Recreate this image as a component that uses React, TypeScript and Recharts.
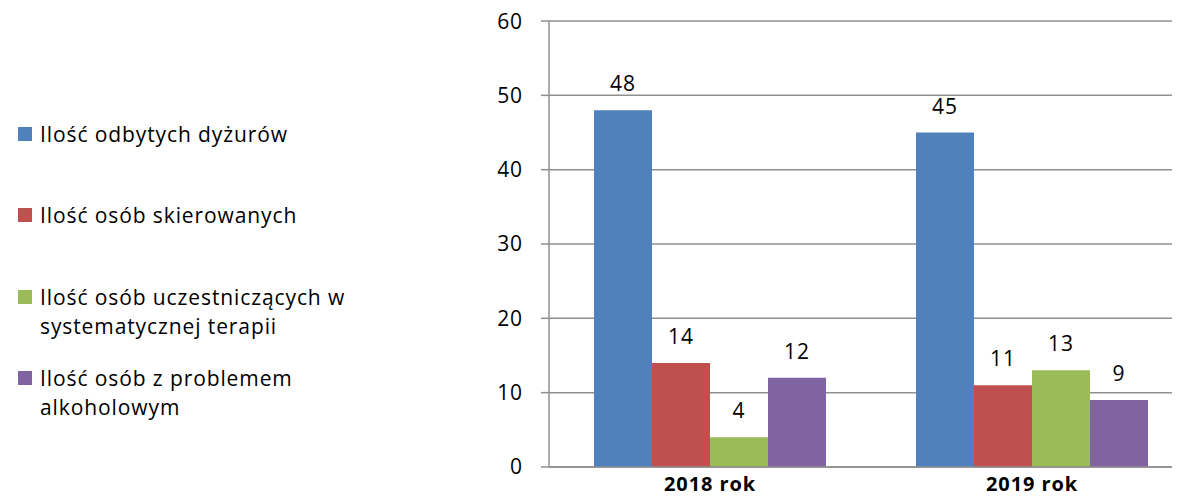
import React from "react";
import { BarChart, Bar, XAxis, YAxis, CartesianGrid, Legend, LabelList } from "recharts";

const categories = ["2018 rok", "2019 rok"];
const dyzury = [48, 45];
const skierowane = [14, 11];
const terapia = [4, 13];
const alkohol = [12, 9];
const yTicks = [0, 10, 20, 30, 40, 50, 60];

const seriesNames = [
  "Ilość odbytych dyżurów",
  "Ilość osób skierowanych",
  "Ilość osób uczestniczących w systematycznej terapii",
  "Ilość osób z problemem alkoholowym",
];
const legendLines = [
  ["Ilość odbytych dyżurów"],
  ["Ilość osób skierowanych"],
  ["Ilość osób uczestniczących w", "systematycznej terapii"],
  ["Ilość osób z problemem", "alkoholowym"],
];

const data = categories.map((c, i) => ({
  name: c,
  s0: dyzury[i],
  s1: skierowane[i],
  s2: terapia[i],
  s3: alkohol[i],
}));

const FONT = "'Open Sans', sans-serif";
const GRID = "#8f8f8f";
const colors = ["#4F81BD", "#C0504D", "#9BBB59", "#8064A2"];
const legendTops = [0, 81, 163, 244];

const LegendContent = (props: any) => {
  const payload = props.payload || [];
  return (
    <div style={{ position: "relative", width: 476, height: 320, fontFamily: FONT, fontSize: 21, letterSpacing: 0.9, color: "#000" }}>
      {payload.map((p: any, i: number) => {
        const idx = seriesNames.indexOf(p.value);
        const lines = legendLines[idx >= 0 ? idx : i];
        return (
          <div key={i} style={{ position: "absolute", left: 0, top: legendTops[i] }}>
            <div style={{ position: "absolute", left: 5, top: 8, width: 14, height: 14, background: p.color }} />
            {lines.map((l: string, j: number) => (
              <div key={j} style={{ position: "absolute", left: 27, top: j * 29, lineHeight: "30px", whiteSpace: "nowrap" }}>{l}</div>
            ))}
          </div>
        );
      })}
    </div>
  );
};

const labelStyle = { fontFamily: FONT, fontSize: 21, fill: "#000", letterSpacing: 0.9 };

export default function App() {
  return (
    <div style={{ width: 1172, height: 491, overflow: "hidden" }}>
      <BarChart
        width={1190}
        height={491}
        data={data}
        margin={{ top: 13, right: 5, bottom: 0, left: 5 }}
        barGap={0}
        barSize={58}
      >
        <CartesianGrid vertical={false} stroke={GRID} strokeWidth={1.5} />
        <XAxis
          dataKey="name"
          axisLine={{ stroke: GRID, strokeWidth: 1.5 }}
          tickLine={false}
          tickSize={0}
          tickMargin={10}
          height={32}
          interval={0}
          tick={{ fontFamily: FONT, fontSize: 20, fontWeight: 700, fill: "#000", letterSpacing: 0.9 }}
        />
        <YAxis
          domain={[0, 60]}
          ticks={yTicks}
          width={60}
          axisLine={{ stroke: GRID, strokeWidth: 1.5 }}
          tickLine={{ stroke: GRID, strokeWidth: 1.5 }}
          tickSize={8}
          tickMargin={18}
          tick={{ ...labelStyle }}
        />
        <Legend
          layout="vertical"
          align="left"
          verticalAlign="top"
          content={LegendContent}
          wrapperStyle={{ width: 476, height: 320, top: 111, left: 5 }}
        />
        {["s0", "s1", "s2", "s3"].map((k, i) => (
          <Bar key={k} dataKey={k} name={seriesNames[i]} fill={colors[i]} isAnimationActive={false}>
            <LabelList dataKey={k} position="top" offset={19} style={labelStyle} />
          </Bar>
        ))}
      </BarChart>
    </div>
  );
}
